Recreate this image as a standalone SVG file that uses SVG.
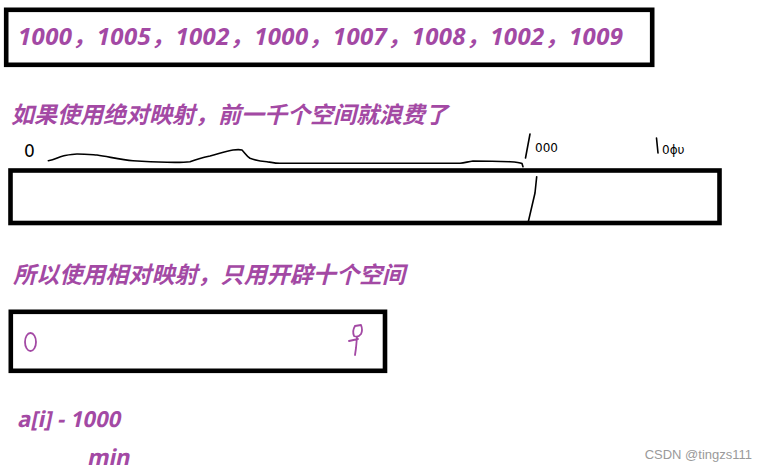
<svg xmlns="http://www.w3.org/2000/svg" width="768" height="472" viewBox="0 0 768 472">
<style>
.box{fill:none;stroke:#000;stroke-width:4.6}
.pt{fill:#A349A4;font-weight:bold;font-style:italic}
.ps{fill:#A349A4;font-weight:bold}
.num{font-family:"Noto Sans","Noto Sans CJK SC",sans-serif}
.cjk{font-family:"Noto Sans CJK SC",sans-serif;font-size:23px}
.hand{fill:none;stroke:#000;stroke-width:1.6;stroke-linecap:round;stroke-linejoin:round}
.hw{font-family:"DejaVu Sans",sans-serif;font-weight:normal}
</style>
<rect width="768" height="472" fill="#fff"/>
<g id="values">
  <rect class="box" x="6.2" y="9.8" width="646" height="55"/>
  <text class="pt num" x="18" y="45" font-size="24" textLength="605" lengthAdjust="spacing">1000，1005，1002，1000，1007，1008，1002，1009</text>
</g>
<g id="absolute-caption">
  <text class="pt cjk" x="11" y="122.5" textLength="437" lengthAdjust="spacing">如果使用绝对映射，前一千个空间就浪费了</text>
</g>
<g id="absolute-array">
  <rect class="box" x="10.5" y="170.5" width="709" height="52.5"/>
  <text class="hw" x="24" y="157" font-size="17" fill="#000">0</text>
  <text class="hw" x="535" y="152" font-size="12" fill="#000">000</text>
  <path class="hand" d="M656.5,138 L658,153"/>
  <text class="hw" x="662" y="154" font-size="12" fill="#000">0ɸυ</text>
</g>
<g id="relative-caption">
  <text class="pt cjk" x="13" y="283" textLength="392" lengthAdjust="spacing">所以使用相对映射，只用开辟十个空间</text>
</g>
<g id="relative-array">
  <rect class="box" x="10.8" y="311.8" width="374.2" height="59"/>
  <ellipse cx="30.5" cy="342" rx="5.5" ry="9" fill="none" stroke="#A349A4" stroke-width="1.8"/>
  <path d="M355,326 L361,325 Q363,330 361,334 Q358,338 354,336 Q352,331 355,326 M357,337 L356,348 L355,355 M349,341 L358,339" fill="none" stroke="#A349A4" stroke-width="1.8" stroke-linecap="round" stroke-linejoin="round"/>
</g>
<g id="formula">
  <text class="ps num" transform="translate(17,427) skewX(-12)" font-size="22">a[i] - 1000</text>
  <text class="ps num" transform="translate(87,465) skewX(-12)" font-size="22">min</text>
</g>
<g id="connectors">
  <path class="hand" d="M48.3,160.7 C55,160 58,157 63,156 C68,155 72,154 77,154 C85,154 90,154.5 97,155 C110,157 122,160 133,160.7 C145,161.5 155,162 167,162.3 C176,162.5 184,162.5 190,161.7 C197,159 203,157.5 210,156 C218,154 226,151 233,150 C237,149.5 240,149.5 242,150 C245,153 247,156.5 250,158.3 C256,160.5 261,161.3 267,161.7 C272,162.5 276,163.3 280,163.3 L460,163.3 C465,163 468,161.5 473,161 C490,161 500,161.3 510,161.7 C516,162 520,162.5 522,163.5 L523,166.7"/>
  <path class="hand" d="M530,134 L527,150 L525.5,158"/>
  <path class="hand" d="M536.7,176.7 L535,193 L528.3,221.7"/>
</g>
<text x="752" y="459" font-family="Liberation Sans, sans-serif" font-size="13" fill="#9a9a9a" text-anchor="end">CSDN @tingzs111</text>
</svg>
